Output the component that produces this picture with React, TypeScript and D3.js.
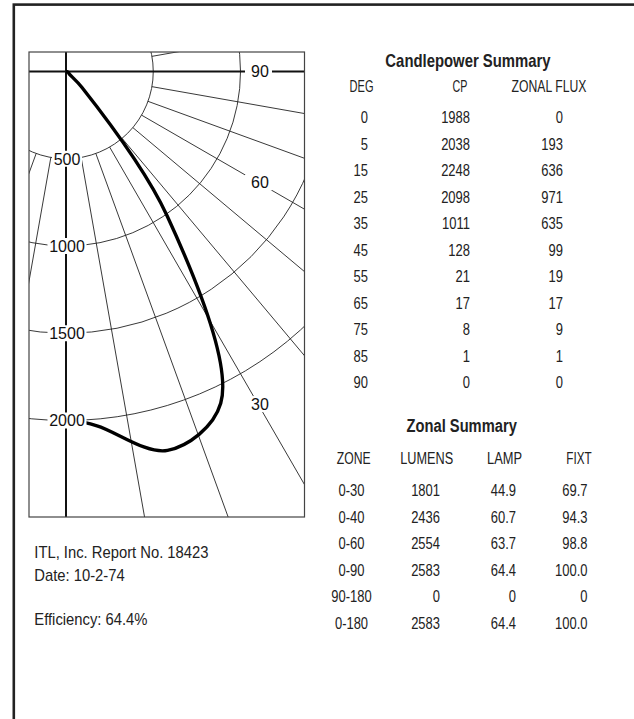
import * as React from "react";
import * as d3 from "d3";

// candlepower summary
const degrees = [0, 5, 15, 25, 35, 45, 55, 65, 75, 85, 90];
const candlepower = [1988, 2038, 2248, 2098, 1011, 128, 21, 17, 8, 1, 0];
const zonalFlux = [0, 193, 636, 971, 635, 99, 19, 17, 9, 1, 0];

// zonal summary
const zones = ["0-30", "0-40", "0-60", "0-90", "90-180", "0-180"];
const zoneLumens = ["1801", "2436", "2554", "2583", "0", "2583"];
const zoneLamp = ["44.9", "60.7", "63.7", "64.4", "0", "64.4"];
const zoneFixt = ["69.7", "94.3", "98.8", "100.0", "0", "100.0"];

// polar grid
const radialTicks = [500, 1000, 1500, 2000];
const gridAngles = [-20, -10, 10, 20, 30, 40, 50, 60, 70, 80, 100];
const angleLabels = [90, 60, 30];

const reportLines = ["ITL, Inc. Report No. 18423", "Date: 10-2-74"];
const efficiencyText = "Efficiency: 64.4%";

const W = 634;
const H = 719;
const box = { x0: 29, y0: 52, x1: 304.5, y1: 517 };
const cx = 66;
const cy = 71.5;
const FONT = "'Liberation Sans', Arial, sans-serif";

const toRad = (deg: number) => (deg * Math.PI) / 180;

// condensed look: squeeze a normal sans horizontally around its anchor
type TProps = {
  x: number;
  y: number;
  anchor?: string;
  sx?: number;
  size?: number;
  bold?: boolean;
  children: React.ReactNode;
};
const T = ({ x, y, anchor = "start", sx = 0.8, size = 16, bold = false, children }: TProps) => (
  <text
    transform={`translate(${x},${y}) scale(${sx},1)`}
    textAnchor={anchor}
    fontSize={size}
    fontWeight={bold ? "bold" : "normal"}
  >
    {children}
  </text>
);

const NUM = { size: 17.3, sx: 0.75 };

export default function App() {
  const r = d3.scaleLinear().domain([0, 2000]).range([0, 349]);

  // degrees measured from nadir, turning towards the right
  const pt = (deg: number, v: number) => [
    cx + r(v) * Math.sin(toRad(deg)),
    cy + r(v) * Math.cos(toRad(deg)),
  ];

  const curve = d3
    .lineRadial<number>()
    .angle((_, i) => Math.PI - toRad(degrees[i]))
    .radius((d) => r(d))
    .curve(d3.curveCatmullRom.alpha(0.5));

  const cpRow = d3.scaleLinear().domain([0, 1]).range([123.3, 149.8]);
  const zRow = d3.scaleLinear().domain([0, 1]).range([496, 522.6]);

  return (
    <svg
      width={W}
      height={H}
      style={{ position: "absolute", left: 0, top: 0, background: "#fff" }}
    >
      <defs>
        <clipPath id="plotClip">
          <rect x={box.x0} y={box.y0} width={box.x1 - box.x0} height={box.y1 - box.y0} />
        </clipPath>
      </defs>

      {/* page frame */}
      <rect x={13.8} y={4.6} width={700} height={800} fill="none" stroke="#222" strokeWidth={2.6} />

      {/* polar diagram */}
      <g clipPath="url(#plotClip)">
        {radialTicks.map((t) => (
          <circle key={t} cx={cx} cy={cy} r={r(t)} fill="none" stroke="#222" strokeWidth={0.9} />
        ))}
        {gridAngles.map((a) => {
          const [x1, y1] = pt(a, 500);
          const [x2, y2] = pt(a, 4000);
          return <line key={a} x1={x1} y1={y1} x2={x2} y2={y2} stroke="#222" strokeWidth={0.9} />;
        })}
        <line x1={cx} x2={cx} y1={box.y0} y2={box.y1} stroke="#111" strokeWidth={2} />
        <line x1={box.x0} x2={box.x1} y1={cy} y2={cy} stroke="#111" strokeWidth={2} />
        <path
          d={curve(candlepower) ?? ""}
          transform={`translate(${cx},${cy})`}
          fill="none"
          stroke="#000"
          strokeWidth={3.4}
          strokeLinejoin="round"
        />
      </g>
      <rect x={box.x0} y={box.y0} width={box.x1 - box.x0} height={box.y1 - box.y0} fill="none" stroke="#444" strokeWidth={1.2} />

      {angleLabels.map((a) => {
        const rr = (258 - cx) / Math.sin(toRad(a));
        const x = cx + rr * Math.sin(toRad(a));
        const y = cy + rr * Math.cos(toRad(a));
        return (
          <g key={a}>
            <rect x={x - 13} y={y - 8} width={27} height={16} fill="#fff" />
            <text x={x + 2} y={y} dy="0.36em" textAnchor="middle" fontFamily={FONT} fontSize={16} fill="#111">
              {a}
            </text>
          </g>
        );
      })}

      {radialTicks.map((t) => {
        const y = cy + r(t);
        const label = String(t);
        const w = label.length * 9 + 3;
        return (
          <g key={t}>
            <rect x={cx + 1 - w / 2} y={y - 8} width={w} height={16} fill="#fff" />
            <text x={cx + 1} y={y} dy="0.36em" textAnchor="middle" fontFamily={FONT} fontSize={16} fill="#111">
              {label}
            </text>
          </g>
        );
      })}

      {/* Candlepower summary */}
      <g fontFamily={FONT} fill="#222">
        <T x={468} y={66.5} anchor="middle" bold sx={0.85} size={17.5}>Candlepower Summary</T>
        <T x={361.5} y={91.5} anchor="middle" sx={0.67} size={16.5}>DEG</T>
        <T x={467.5} y={91.5} anchor="end" sx={0.65} size={16.5}>CP</T>
        <T x={549} y={91.5} anchor="middle" sx={0.74} size={16.5}>ZONAL FLUX</T>
        {degrees.map((d, i) => (
          <g key={d}>
            <T x={368} y={cpRow(i)} anchor="end" {...NUM}>{d}</T>
            <T x={470} y={cpRow(i)} anchor="end" {...NUM}>{candlepower[i]}</T>
            <T x={563} y={cpRow(i)} anchor="end" {...NUM}>{zonalFlux[i]}</T>
          </g>
        ))}
      </g>

      {/* Zonal summary */}
      <g fontFamily={FONT} fill="#222">
        <T x={461.7} y={431.7} anchor="middle" bold sx={0.84} size={17.5}>Zonal Summary</T>
        <T x={353.7} y={464} anchor="middle" sx={0.74} size={16.5}>ZONE</T>
        <T x={426.7} y={464} anchor="middle" sx={0.77} size={16.5}>LUMENS</T>
        <T x={504.5} y={464} anchor="middle" sx={0.78} size={16.5}>LAMP</T>
        <T x={579} y={464} anchor="middle" sx={0.71} size={16.5}>FIXT</T>
        {zones.map((z, i) => (
          <g key={z}>
            <T x={351.5} y={zRow(i)} anchor="middle" {...NUM}>{z}</T>
            <T x={440} y={zRow(i)} anchor="end" {...NUM}>{zoneLumens[i]}</T>
            <T x={516} y={zRow(i)} anchor="end" {...NUM}>{zoneLamp[i]}</T>
            <T x={587.5} y={zRow(i)} anchor="end" {...NUM}>{zoneFixt[i]}</T>
          </g>
        ))}
      </g>

      {/* report info */}
      <g fontFamily={FONT} fill="#222">
        {reportLines.map((l, i) => (
          <T key={l} x={34.3} y={558.3 + i * 22.7} size={17} sx={0.87}>{l}</T>
        ))}
        <T x={34.3} y={625} size={17} sx={0.87}>{efficiencyText}</T>
      </g>
    </svg>
  );
}
